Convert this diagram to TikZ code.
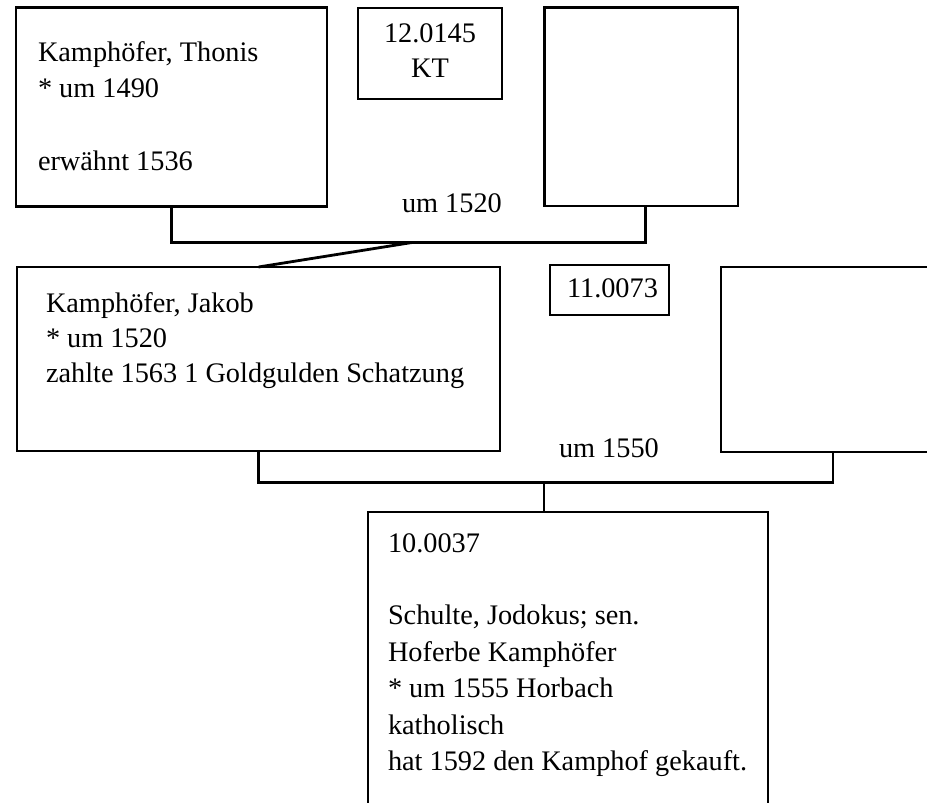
\documentclass[tikz,border=0pt]{standalone}
\usepackage{fontspec}
\setmainfont{Liberation Serif}
\begin{document}
\begin{tikzpicture}[x=1pt,y=-1pt,
  box/.style={draw, line width=2.8pt, outer sep=0pt, inner sep=0pt, anchor=north west},
  txt/.style={inner sep=0pt, outer sep=0pt, anchor=base west,
    font=\fontsize{28.3}{36.4}\selectfont},
  link/.style={line width=2.8pt}]
\useasboundingbox (0,0) rectangle (927,803);
\clip (0,0) rectangle (927,803);

% generation 12
\node[box, minimum width=311pt, minimum height=199pt] (thonis) at (16,7.5) {};
\node[box, minimum width=144pt, minimum height=91pt] (kt) at (358,8) {};
\node[box, minimum width=193.5pt, minimum height=198.5pt] (wife1) at (544.5,7.5) {};
\node[txt] (thonistxt) at (38,61) {\begin{tabular}[t]{@{}l@{}}Kamphöfer, Thonis\\ {*} um 1490\\ \\ erwähnt 1536\end{tabular}};
\node[txt, anchor=base] (kttxt) at (430,42) {\begin{tabular}[t]{@{}c@{}}12.0145\\[-1.4pt] KT\end{tabular}};

% generation 11
\node[box, minimum width=483pt, minimum height=184pt] (jakob) at (17,267) {};
\node[box, minimum width=119pt, minimum height=50pt] (code11) at (550,265) {};
\node[box, minimum width=224pt, minimum height=185pt] (wife2) at (721,267) {};
\node[txt] (jakobtxt) at (46,312) {\begin{tabular}[t]{@{}l@{}}Kamphöfer, Jakob\\[-1pt] {*} um 1520\\[-1pt] zahlte 1563 1 Goldgulden Schatzung\end{tabular}};
\node[txt] (code11txt) at (567,297) {11.0073};

% generation 10
\node[box, minimum width=400pt, minimum height=320pt] (jodokus) at (368,512) {};
\node[txt] (jodokustxt) at (388,552) {\begin{tabular}[t]{@{}l@{}}10.0037\\ \\ Schulte, Jodokus; sen.\\ Hoferbe Kamphöfer\\ {*} um 1555 Horbach\\ katholisch\\ hat 1592 den Kamphof gekauft.\end{tabular}};

% marriages and descent
\coordinate (m1) at (412,242.5);
\coordinate (m2) at (544,482.5);
\draw[link] (thonis.south) |- (m1) -| ([xshift=4pt]wife1.south);
\draw[link] (m1) -- (jakob.north);
\node[txt] (date1) at (402,212) {um 1520};

\draw[link] (jakob.south) |- (m2) -| (wife2.south);
\draw[link] (m2) -- (m2 |- jodokus.north);
\node[txt] (date2) at (559,457) {um 1550};
\end{tikzpicture}
\end{document}
